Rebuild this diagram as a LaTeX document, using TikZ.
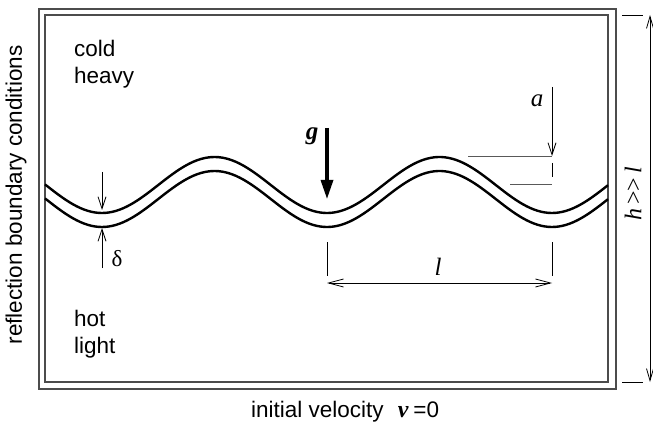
\documentclass[tikz,border=0pt]{standalone}
\usepackage{fontspec}
\setmainfont{Liberation Sans}
\newfontfamily\timesfont{Liberation Serif}
\usetikzlibrary{arrows.meta}

\begin{document}
\begin{tikzpicture}[
        x=1pt, y=-1pt,
        every node/.style={font=\fontsize{22.5}{26}\selectfont, inner sep=0pt},
        caja/.style={draw=black!70, line width=1.2pt},
        onda/.style={line width=2.4pt},
        cota/.style={line width=0.8pt},
        punta/.style={-{Straight Barb[length=12pt,width=8pt]}},
        guia/.style={draw=black!65, line width=1pt},
        letra/.style={font=\fontsize{25}{28}\selectfont\timesfont\itshape}
    ]

        % Marco
        \useasboundingbox (0,0) rectangle (653,422);
        \draw[caja] (39,9) rectangle (616,389);
        \draw[caja] (45,15) rectangle (608,382);

        % Interfaz ondulada
        \draw[onda] plot[domain=45:608, samples=160] (\x, {185+28*cos((\x-102)/225*360)});
        \draw[onda] plot[domain=45:608, samples=160] (\x, {199+28*cos((\x-102)/225*360)});

        % Textos
        \node[anchor=base west] (frio) at (74,57) {cold};
        \node[anchor=base west] (pesado) at (74,84) {heavy};
        \node[anchor=base west] (caliente) at (74,326) {hot};
        \node[anchor=base west] (ligero) at (74,353) {light};
        \node[rotate=90] (contorno) at (16,195) {reflection boundary conditions};
        \node[anchor=base west] (velocidad) at (251,417)
            {initial velocity\hspace{14pt}{\fontsize{24}{26}\timesfont\bfseries\itshape v}\hspace{5pt}=0};

        % Gravedad
        \coordinate (g1) at (327,128);
        \coordinate (g2) at (327,199);
        \node[font=\fontsize{25}{28}\selectfont\timesfont\bfseries\itshape] (gravedad) at (312,136) {g};
        \draw[line width=3.2pt, -{Triangle[length=19pt,width=12pt]}] (g1) -- (g2);

        % Espesor delta
        \coordinate (d1) at (102,172);
        \coordinate (d2) at (102,210);
        \coordinate (d3) at (102,268);
        \coordinate (d4) at (102,228);
        \draw[cota, punta] (d1) -- (d2);
        \draw[cota, punta] (d3) -- (d4);
        \node[font=\fontsize{23}{26}\selectfont\timesfont] (delta) at (117,259) {δ};

        % Amplitud a
        \coordinate (a1) at (552,87);
        \coordinate (a2) at (552,156);
        \draw[cota, punta] (a1) -- (a2);
        \node[letra] (amplitud) at (537,101) {a};
        \draw[guia] (468,157) -- (552,157);
        \draw[guia] (510,185) -- (552,185);
        \draw[cota] (552,163) -- (552,177);

        % Longitud de onda l
        \coordinate (l1) at (327,283);
        \coordinate (l2) at (552,283);
        \draw[cota] (327,242) -- (327,276);
        \draw[cota] (552,242) -- (552,276);
        \draw[cota, {Straight Barb[length=15pt,width=8pt]}-{Straight Barb[length=15pt,width=8pt]}] (l1) -- (l2);
        \node[letra, anchor=base] (longitud) at (438,275) {l};

        % Altura h
        \coordinate (h1) at (650,15);
        \coordinate (h2) at (650,382);
        \draw[cota] (622,15) -- (643,15);
        \draw[cota] (622,382) -- (643,382);
        \draw[cota, {Straight Barb[length=12pt,width=7pt]}-{Straight Barb[length=12pt,width=7pt]}] (h1) -- (h2);
        \node[rotate=90, font=\fontsize{24}{26}\selectfont\timesfont] (altura) at (633,194)
            {\itshape h\upshape\,>>\,\itshape l};

    \end{tikzpicture}
\end{document}
